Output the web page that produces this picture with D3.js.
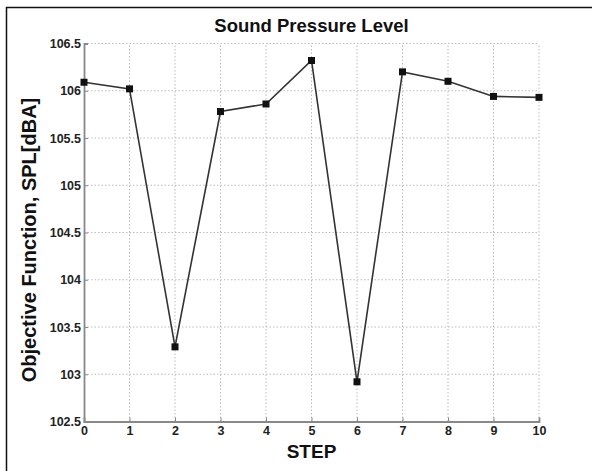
<!DOCTYPE html>
<html><head><meta charset="utf-8">
<script src="https://cdn.jsdelivr.net/npm/d3@7"></script>
<style>body{margin:0;background:#fff;} svg{display:block;font-family:"Liberation Sans",Arial,sans-serif;}</style>
</head><body>
<svg id="c" width="592" height="471"></svg>
<script>
const steps = [0,1,2,3,4,5,6,7,8,9,10];
const spl = [106.09, 106.02, 103.29, 105.78, 105.86, 106.32, 102.92, 106.20, 106.10, 105.94, 105.93];
const xTicks = [0,1,2,3,4,5,6,7,8,9,10];
const yTicks = [102.5,103,103.5,104,104.5,105,105.5,106,106.5];
const title = "Sound Pressure Level";
const xLabel = "STEP";
const yLabel = "Objective Function, SPL[dBA]";

const svg = d3.select("#c");
const L = 84, R = 539, T = 43.5, B = 421.5;
const x = d3.scaleLinear().domain([0,10]).range([L,R]);
const y = d3.scaleLinear().domain([102.5,106.5]).range([B,T]);

// outer frame
svg.append("rect").attr("x",6.5).attr("y",7.5).attr("width",600).attr("height",480)
  .attr("fill","none").attr("stroke","#111").attr("stroke-width",1.5);

// grid
const g = svg.append("g");
g.selectAll(".gx").data(xTicks.slice(1)).enter().append("line")
  .attr("x1",d=>x(d)).attr("x2",d=>x(d)).attr("y1",B).attr("y2",T)
  .attr("stroke","#bbb").attr("stroke-width",1).attr("stroke-dasharray","1.5,2");
g.selectAll(".gy").data(yTicks.slice(1)).enter().append("line")
  .attr("y1",d=>y(d)).attr("y2",d=>y(d)).attr("x1",L).attr("x2",R)
  .attr("stroke","#bbb").attr("stroke-width",1).attr("stroke-dasharray","1.5,2");

// axes
const xa = svg.append("g").attr("transform",`translate(0,${B})`)
  .call(d3.axisBottom(x).tickValues(xTicks).tickSize(-4).tickPadding(5).tickFormat(d3.format("d")));
const ya = svg.append("g").attr("transform",`translate(${L},0)`)
  .call(d3.axisLeft(y).tickValues(yTicks).tickSize(-4).tickPadding(3).tickFormat(d=>String(d)));
[xa,ya].forEach(a=>{
  a.select(".domain").attr("stroke","#888").attr("stroke-width",1.8);
  a.selectAll(".tick line").attr("stroke","#888").attr("stroke-width",1);
  a.selectAll(".tick text").attr("fill","#222").style("font-size","12.5px").style("font-weight","bold");
});
ya.selectAll(".tick text").attr("dy","0.32em");
xa.selectAll(".tick text").attr("dy","0.71em");

// line
svg.append("path").datum(steps.map((s,i)=>[s,spl[i]]))
  .attr("d",d3.line().x(d=>x(d[0])).y(d=>y(d[1])))
  .attr("fill","none").attr("stroke","#333").attr("stroke-width",1.6);
svg.selectAll(".m").data(steps).enter().append("rect")
  .attr("x",(d)=>x(d)-3.5).attr("y",(d,i)=>y(spl[i])-3.5).attr("width",7).attr("height",7)
  .attr("fill","#111");

// texts
svg.append("text").attr("x",(L+R)/2).attr("y",32).attr("text-anchor","middle")
  .style("font-size","18.5px").style("font-weight","bold").attr("fill","#111").text(title);
svg.append("text").attr("x",(L+R)/2).attr("y",458).attr("text-anchor","middle")
  .style("font-size","19px").style("font-weight","bold").attr("fill","#111").text(xLabel);
svg.append("text").attr("transform",`translate(36,240) rotate(-90)`).attr("text-anchor","middle")
  .style("font-size","20px").style("font-weight","bold").attr("fill","#111").text(yLabel);
</script>
</body></html>
